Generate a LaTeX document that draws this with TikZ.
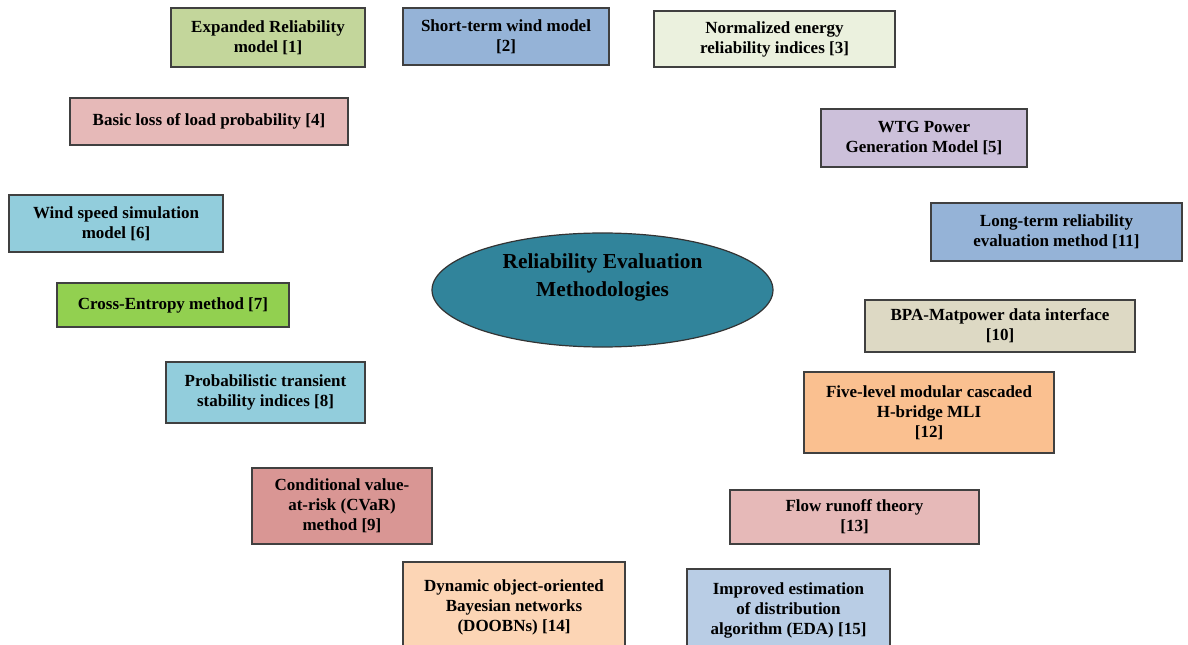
\documentclass[tikz,border=0pt]{standalone}
\usepackage{fontspec}
\setmainfont{Liberation Serif}
\usepackage{tikz}
\usetikzlibrary{shapes.geometric}

\definecolor{olivebox}{HTML}{C3D69B}
\definecolor{bluebox}{HTML}{95B3D7}
\definecolor{palebox}{HTML}{EBF1DE}
\definecolor{rosebox}{HTML}{E6B9B8}
\definecolor{lilacbox}{HTML}{CCC0DA}
\definecolor{aquabox}{HTML}{92CDDC}
\definecolor{limebox}{HTML}{92D050}
\definecolor{redbox}{HTML}{D99694}
\definecolor{sandbox}{HTML}{DDD9C4}
\definecolor{orangebox}{HTML}{FAC090}
\definecolor{peachbox}{HTML}{FCD5B5}
\definecolor{skybox}{HTML}{B9CDE5}
\definecolor{tealhub}{HTML}{31849B}

\begin{document}
\begin{tikzpicture}[x=0.75pt, y=-0.75pt,
  box/.style={draw=black!75, line width=0.9pt, align=center, inner sep=0pt,
    font=\fontsize{12.75}{15}\selectfont\bfseries},
  hub/.style={ellipse, draw=black!80, line width=0.9pt, fill=tealhub, align=center,
    inner sep=0pt, font=\fontsize{16}{21}\selectfont\bfseries}]
\useasboundingbox (0,0) rectangle (1188,645);

\node[hub, minimum width=255.75pt, minimum height=85.5pt, text depth=22pt] (rem) at (602.5,290) {Reliability Evaluation\\Methodologies};

\node[box, fill=olivebox, minimum width=145.5pt, minimum height=44.25pt] (erm) at (268,37.5) {Expanded Reliability\\model [1]};
\node[box, fill=bluebox, minimum width=154.5pt, minimum height=42.75pt] (stw) at (506,36.5) {Short-term wind model\\{}[2]};
\node[box, fill=palebox, minimum width=180.75pt, minimum height=42pt] (ner) at (774.5,39) {Normalized energy\\reliability indices [3]};
\node[box, fill=rosebox, minimum width=208.5pt, minimum height=35.25pt] (llp) at (209,121.5) {Basic loss of load probability [4]};
\node[box, fill=lilacbox, minimum width=154.5pt, minimum height=43.5pt] (wtg) at (924,138) {WTG Power\\Generation Model [5]};
\node[box, fill=aquabox, minimum width=160.5pt, minimum height=42.75pt] (wss) at (116,223.5) {Wind speed simulation\\model [6]};
\node[box, fill=limebox, minimum width=174pt, minimum height=33pt] (cem) at (173,305) {Cross-Entropy method [7]};
\node[box, fill=aquabox, minimum width=149.25pt, minimum height=45.75pt] (pts) at (265.5,392.5) {Probabilistic transient\\stability indices [8]};
\node[box, fill=redbox, minimum width=135pt, minimum height=57pt] (cvar) at (342,506) {Conditional value-\\at-risk (CVaR)\\method [9]};
\node[box, fill=sandbox, minimum width=202.5pt, minimum height=39pt] (bpa) at (1000,326) {BPA-Matpower data interface\\{}[10]};
\node[box, fill=bluebox, minimum width=188.25pt, minimum height=43.5pt] (ltr) at (1056.5,232) {Long-term reliability\\evaluation method [11]};
\node[box, fill=orangebox, minimum width=187.5pt, minimum height=60.75pt] (mli) at (929,412.5) {Five-level modular cascaded\\H-bridge MLI\\{}[12]};
\node[box, fill=rosebox, minimum width=186.75pt, minimum height=40.5pt] (fro) at (854.5,517) {Flow runoff theory\\{}[13]};
\node[box, fill=peachbox, minimum width=166.5pt, minimum height=67.5pt] (doo) at (514,607) {Dynamic object-oriented\\Bayesian networks\\(DOOBNs) [14]};
\node[box, fill=skybox, minimum width=152.25pt, minimum height=61.5pt] (eda) at (788.5,610) {Improved estimation\\of distribution\\algorithm (EDA) [15]};
\end{tikzpicture}
\end{document}
